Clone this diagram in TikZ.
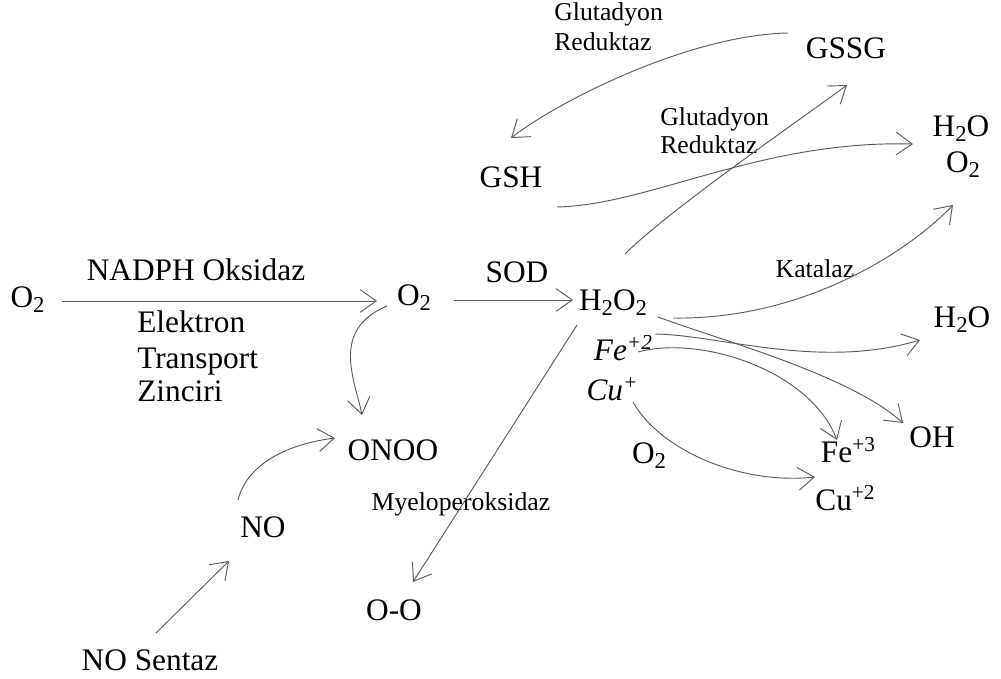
\documentclass[tikz,border=0pt]{standalone}
\usepackage{fontspec}
\setmainfont{Liberation Serif}
\usetikzlibrary{arrows.meta,calc}

\definecolor{linegray}{RGB}{90,90,90}
\newcommand{\subs}[1]{\raisebox{-0.18em}{\fontsize{17}{17}\selectfont #1}}
\newcommand{\sups}[1]{\raisebox{0.33em}{\fontsize{16}{16}\selectfont #1}}

\tikzset{
  big/.style={font=\fontsize{23.5}{26}\selectfont, inner sep=0pt, anchor=base},
  small/.style={font=\fontsize{19.3}{22}\selectfont, inner sep=0pt, anchor=base},
  arr/.style={draw=linegray, line width=0.7pt, -{Straight Barb[length=12pt,width=17pt]}},
}

\begin{document}
\begin{tikzpicture}[x=0.75pt, y=-0.75pt]
    \useasboundingbox (0,0) rectangle (1001,679);
    % Left chain
    \node[big] (o2l) at (27.5,307) {O\subs{2}};
    \node[big] (nadph) at (196,280) {NADPH Oksidaz};
    \node[big, anchor=base west] (elek) at (137,332) {Elektron};
    \node[big, anchor=base west] (trans) at (137,368) {Transport};
    \node[big, anchor=base west] (zinc) at (137,401) {Zinciri};
    \node[big] (o2m) at (414,305) {O\subs{2}};
    \node[big] (sod) at (517,282) {SOD};
    \node[big] (h2o2) at (613,310) {H\subs{2}O\subs{2}};
    % Nitric oxide
    \node[big] (onoo) at (393,460) {ONOO};
    \node[big] (no) at (263,537) {NO};
    \node[big] (nosentaz) at (150,670) {NO Sentaz};
    \node[big] (oo) at (394,620) {O-O};
    \node[small] (myelo) at (461,510) {Myeloperoksidaz};
    % Glutathione
    \node[big] (gsh) at (511,187) {GSH};
    \node[big] (gssg) at (846,58) {GSSG};
    \node[small, anchor=base west] (glutA) at (554,20) {Glutadyon};
    \node[small, anchor=base west] (redA) at (554,50) {Reduktaz};
    \node[small, anchor=base west] (glutB) at (660,125) {Glutadyon};
    \node[small, anchor=base west] (redB) at (660,153) {Reduktaz};
    \node[big] (h2oa) at (961,136) {H\subs{2}O};
    \node[big] (o2a) at (963,172) {O\subs{2}};
    % Catalase and Fenton
    \node[small] (katalaz) at (815,277) {Katalaz};
    \node[big] (h2or) at (962,327) {H\subs{2}O};
    \node[big] (fe2) at (623,360) {\textit{Fe\sups{+2}}};
    \node[big] (cu) at (612,400) {\textit{Cu\sups{+}}};
    \node[big] (o2s) at (649,463) {O\subs{2}};
    \node[big] (fe3) at (848,462) {Fe\sups{+3}};
    \node[big] (cu2) at (845,510) {Cu\sups{+2}};
    \node[big] (oh) at (932,447) {OH};

    % Arrows
    \draw[arr] ($(o2l.base)+(34.5,-6)$) -- ($(o2m.base)+(-37,-4)$);
    \draw[arr] ($(o2m.base)+(40,-5)$) -- ($(h2o2.base)+(-40,-10)$);
    \draw[arr] ($(o2m.base)+(-27,1)$) .. controls +(-57,24) and +(-7,-35) .. ($(onoo.base)+(-31,-45)$);
    \draw[arr] ($(no.base)+(-25,-37)$) .. controls +(10,-40) and +(-40,5) .. ($(onoo.base)+(-58,-22)$);
    \draw[arr] ($(nosentaz.base)+(6,-37)$) -- ($(no.base)+(-34,24)$);
    \draw[arr] ($(h2o2.base)+(-36,15)$) -- ($(oo.base)+(19,-38)$);
    \draw[arr] ($(gssg.base)+(-58,-25)$) .. controls +(-98,2) and +(49,-38) .. ($(gsh.base)+(0,-49)$);
    \draw[arr] ($(h2o2.base)+(12,-56)$) .. controls +(45,-45) and +(-40,30) .. ($(gssg.base)+(1,27)$);
    \draw[arr] ($(gsh.base)+(46,20)$) .. controls +(93,-2) and +(-153,-4) .. ($(h2oa.base)+(-48,8)$);
    \draw[arr] ($(h2o2.base)+(60,8)$) .. controls +(127,2) and +(-48,50) .. ($(o2a.base)+(-10,33)$);
    \draw[arr] ($(h2o2.base)+(45,7)$) .. controls +(62,23) and +(-53,-48) .. ($(oh.base)+(-29,-24)$);
    \draw[arr] ($(fe2.base)+(32,-26)$) .. controls +(65,1) and +(-100,30) .. ($(h2or.base)+(-42,13)$);
    \draw[arr] ($(fe2.base)+(15,-8)$) .. controls +(62,-17) and +(-27,-70) .. ($(fe3.base)+(-11,-22)$);
    \draw[arr] ($(cu.base)+(21,2)$) .. controls +(27,48) and +(-75,8) .. ($(cu2.base)+(-30,-33)$);
\end{tikzpicture}
\end{document}
